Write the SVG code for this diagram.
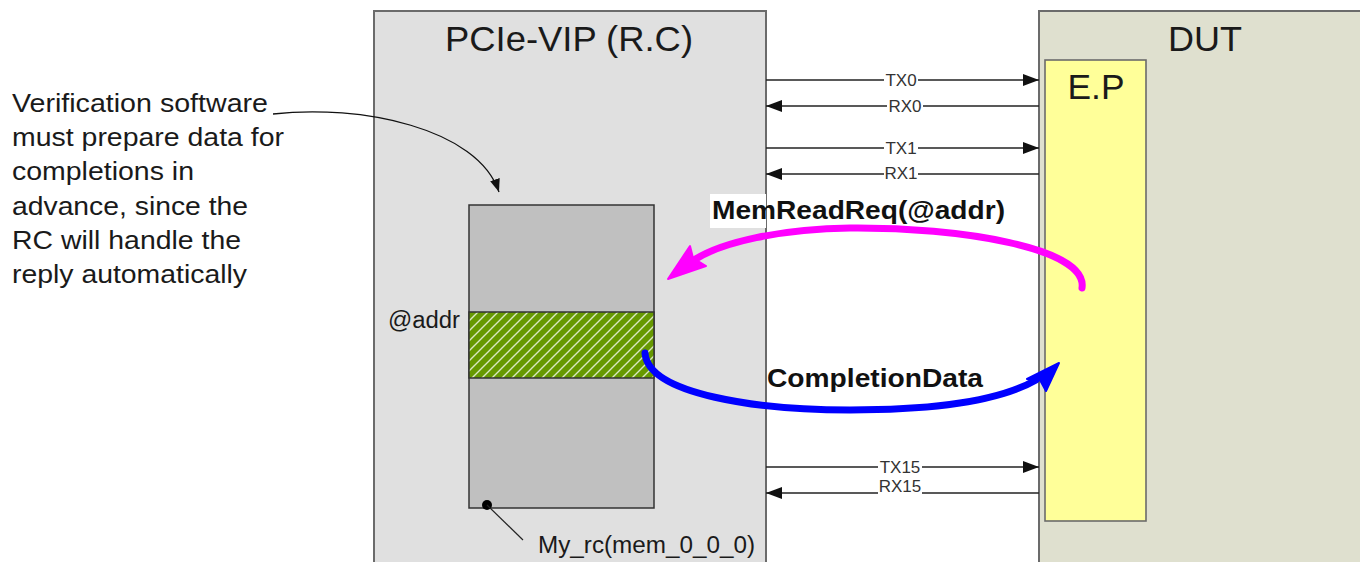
<svg xmlns="http://www.w3.org/2000/svg" width="1360" height="562" viewBox="0 0 1360 562">
  <style>
    .box { stroke: #6b6b6b; stroke-width: 2; }
    .title { font-family: "Liberation Sans", Arial, sans-serif; font-size: 35px; fill: #1a1a1a; text-anchor: middle; }
    .note { font-family: "Liberation Sans", Arial, sans-serif; font-size: 26px; fill: #1a1a1a; }
    .small { font-family: "Liberation Sans", Arial, sans-serif; font-size: 23px; fill: #1a1a1a; }
    .lane { stroke: #222; stroke-width: 1.4; fill: none; }
    .gap { fill: #ffffff; }
    .lanelbl { font-family: "Liberation Sans", Arial, sans-serif; font-size: 17px; fill: #333; text-anchor: middle; }
    .bold { font-family: "Liberation Sans", Arial, sans-serif; font-size: 26px; font-weight: bold; fill: #111; }
  </style>
  <defs>
    <marker id="lane-head" markerUnits="userSpaceOnUse" markerWidth="18" markerHeight="14" refX="16" refY="6" orient="auto">
      <path d="M0,0 L16,6 L0,12 Z" fill="#111"/>
    </marker>
    <marker id="note-head" markerUnits="userSpaceOnUse" markerWidth="14" markerHeight="14" refX="13" refY="5" orient="auto">
      <path d="M0,0 L13,5 L0,10 Z" fill="#111"/>
    </marker>
    <pattern id="hatch" patternUnits="userSpaceOnUse" width="10" height="10">
      <rect width="10" height="10" fill="#669900"/>
      <path d="M0,10 L10,0 M-3,3 L3,-3 M7,13 L13,7" stroke="#d9e8c0" stroke-width="1.4"/>
    </pattern>
  </defs>

  <rect width="1360" height="562" fill="#ffffff"/>

  <!-- Root complex verification IP -->
  <g id="node-vip">
    <rect class="box" x="374" y="11" width="392" height="570" fill="#e0e0e0"/>
    <text class="title" x="569" y="51" textLength="248" lengthAdjust="spacingAndGlyphs">PCIe-VIP (R.C)</text>
  </g>

  <!-- Device under test -->
  <g id="node-dut">
    <rect class="box" x="1039" y="11" width="340" height="570" fill="#dfe0cf"/>
    <text class="title" x="1205" y="51" textLength="74" lengthAdjust="spacingAndGlyphs">DUT</text>
  </g>

  <!-- Endpoint -->
  <g id="node-ep">
    <rect x="1045" y="60" width="101" height="461" fill="#ffff99" stroke="#6b6b6b" stroke-width="1.6"/>
    <text class="title" x="1096" y="99" textLength="57" lengthAdjust="spacingAndGlyphs">E.P</text>
  </g>

  <!-- RC memory with the prepared completion region -->
  <g id="node-mem">
    <rect x="469" y="205" width="185" height="303" fill="#c0c0c0" stroke="#333" stroke-width="1.5"/>
    <rect x="469" y="312" width="185" height="66" fill="url(#hatch)" stroke="#333" stroke-width="1.5"/>
    <text class="small" x="388" y="328" textLength="72" lengthAdjust="spacingAndGlyphs">@addr</text>
  </g>

  <g id="node-mem-name">
    <circle cx="487" cy="505" r="5" fill="#000"/>
    <text class="small" x="538" y="553" textLength="217" lengthAdjust="spacingAndGlyphs">My_rc(mem_0_0_0)</text>
  </g>

  <!-- Explanatory note -->
  <g id="node-note" class="note">
    <text x="12" y="112" textLength="256" lengthAdjust="spacingAndGlyphs">Verification software</text>
    <text x="12" y="146" textLength="272" lengthAdjust="spacingAndGlyphs">must prepare data for</text>
    <text x="12" y="180" textLength="182" lengthAdjust="spacingAndGlyphs">completions in</text>
    <text x="12" y="215" textLength="236" lengthAdjust="spacingAndGlyphs">advance, since the</text>
    <text x="12" y="249" textLength="229" lengthAdjust="spacingAndGlyphs">RC will handle the</text>
    <text x="12" y="283" textLength="235" lengthAdjust="spacingAndGlyphs">reply automatically</text>
  </g>

  <g id="connectors">
    <!-- link lanes; each label sits in a gap cut out of its line -->
    <g id="lanes">
      <line class="lane" x1="766" y1="80" x2="1039" y2="80" marker-end="url(#lane-head)"/>
      <rect class="gap" x="884" y="74" width="34" height="12"/>
      <text class="lanelbl" x="901" y="86">TX0</text>

      <line class="lane" x1="1039" y1="106" x2="766" y2="106" marker-end="url(#lane-head)"/>
      <rect class="gap" x="887" y="100" width="36" height="12"/>
      <text class="lanelbl" x="905" y="112">RX0</text>

      <line class="lane" x1="766" y1="148" x2="1039" y2="148" marker-end="url(#lane-head)"/>
      <rect class="gap" x="884" y="142" width="34" height="12"/>
      <text class="lanelbl" x="901" y="154">TX1</text>

      <line class="lane" x1="1039" y1="174" x2="766" y2="174" marker-end="url(#lane-head)"/>
      <rect class="gap" x="884" y="168" width="34" height="12"/>
      <text class="lanelbl" x="901" y="179">RX1</text>

      <line class="lane" x1="766" y1="467" x2="1039" y2="467" marker-end="url(#lane-head)"/>
      <rect class="gap" x="878" y="461" width="44" height="12"/>
      <text class="lanelbl" x="900" y="473">TX15</text>

      <line class="lane" x1="1039" y1="493" x2="766" y2="493" marker-end="url(#lane-head)"/>
      <rect class="gap" x="878" y="487" width="44" height="9"/>
      <text class="lanelbl" x="900" y="492">RX15</text>
    </g>

    <!-- note pointer -->
    <path d="M273,114 C360,104 478,128 499,192" fill="none" stroke="#111" stroke-width="1.3" marker-end="url(#note-head)"/>

    <!-- memory name leader -->
    <line x1="487" y1="505" x2="523" y2="540" stroke="#222" stroke-width="1.2"/>

    <!-- read request from endpoint -->
    <g id="mem-read">
      <path d="M1082,288 C1088,248 960,227 850,228 C780,229 722,242 694,260" fill="none" stroke="#ff00ff" stroke-width="7" stroke-linecap="round"/>
      <path d="M668,279 L690,246 L693,258 L706,266 Z" fill="#ff00ff" stroke="#ff00ff" stroke-width="2" stroke-linejoin="round"/>
      <rect x="710" y="194" width="56" height="34" fill="#ffffff"/>
      <text class="bold" x="712" y="219" textLength="293" lengthAdjust="spacingAndGlyphs">MemReadReq(@addr)</text>
    </g>

    <!-- completion returned to endpoint -->
    <g id="completion">
      <path d="M645,353 C648,395 760,410 850,410 C945,410 1005,398 1036,380" fill="none" stroke="#0000ff" stroke-width="7" stroke-linecap="round"/>
      <path d="M1059,363 L1046,391 L1040,380 L1027,379 Z" fill="#0000ff" stroke="#0000ff" stroke-width="2" stroke-linejoin="round"/>
      <text class="bold" x="767" y="387" textLength="216" lengthAdjust="spacingAndGlyphs">CompletionData</text>
    </g>
  </g>
</svg>
